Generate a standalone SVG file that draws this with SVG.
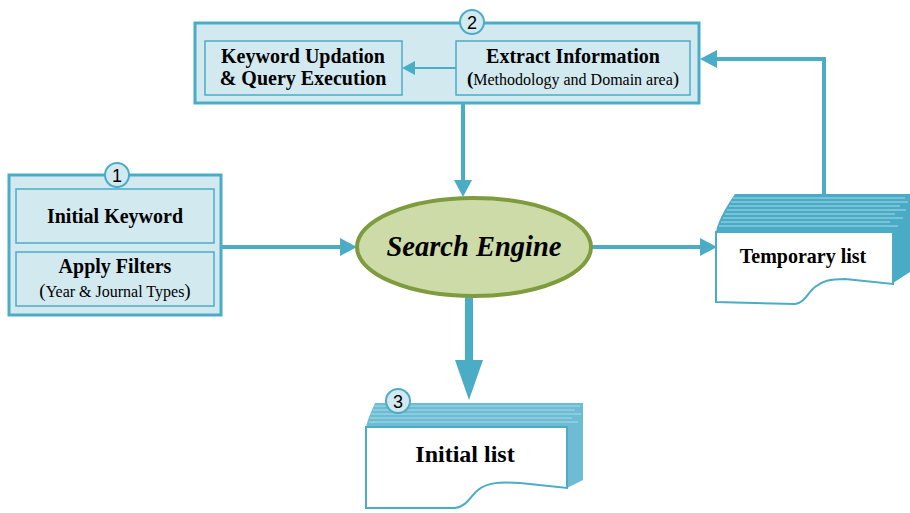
<svg xmlns="http://www.w3.org/2000/svg" width="910" height="513" viewBox="0 0 910 513">
<defs>
<style>
.outer{fill:#d2e9f0;stroke:#4bacc6;stroke-width:3}
.inner{fill:#d2e9f0;stroke:#4bacc6;stroke-width:1.5}
.num{fill:#d2e9f0;stroke:#4bacc6;stroke-width:2}
.numt{font-family:"Liberation Sans",Arial,sans-serif;font-size:18px;fill:#000;text-anchor:middle}
.b{font-family:"Liberation Serif","Times New Roman",serif;font-weight:bold;font-size:20px;fill:#000;text-anchor:middle}
.n{font-family:"Liberation Serif","Times New Roman",serif;font-size:16px;fill:#000;text-anchor:middle}
.line{fill:none;stroke:#4bacc6;stroke-width:4}
.head{fill:#4bacc6}
.doc{fill:#fff;stroke:#4bacc6;stroke-width:2}
.stk{stroke:#a9dbe8;stroke-width:1}
</style>
</defs>
<rect width="910" height="513" fill="#fff"/>

<g id="connectors">
<path class="line" d="M221,247 L342,247"/>
<polygon class="head" points="357,247 340,238 340,256"/>
<path class="line" d="M463,103 L463,182"/>
<polygon class="head" points="463,197 454,180 472,180"/>
<path class="line" d="M592,247 L702,247"/>
<polygon class="head" points="717,247 700,238 700,256"/>
<path class="line" d="M824,194 L824,59 L714,59"/>
<polygon class="head" points="700,59 717,50 717,68"/>
<rect class="head" x="465" y="297" width="8" height="64"/>
<polygon class="head" points="469,400 455,360 483,360"/>
</g>

<g id="node2">
<rect class="outer" x="195" y="23" width="504" height="80"/>
<rect class="inner" x="205" y="41" width="197" height="54"/>
<rect class="inner" x="456" y="41" width="234" height="54"/>
<path d="M456,68 L414,68" stroke="#4bacc6" stroke-width="2" fill="none"/>
<polygon class="head" points="402,68 415,61 415,75"/>
<text class="b" x="303" y="63">Keyword Updation</text>
<text class="b" x="303" y="85">&amp; Query Execution</text>
<text class="b" x="573" y="63">Extract Information</text>
<text class="n" x="573" y="85"><tspan style="font-weight:bold;font-size:19px">(</tspan>Methodology and Domain area<tspan style="font-size:19px">)</tspan></text>
<circle class="num" cx="472" cy="22" r="12"/>
<text class="numt" x="472" y="28.5">2</text>
</g>

<g id="node1">
<rect class="outer" x="9" y="175" width="212" height="140"/>
<rect class="inner" x="16" y="189" width="198" height="54"/>
<rect class="inner" x="16" y="252" width="198" height="54"/>
<text class="b" x="115" y="223">Initial Keyword</text>
<text class="b" x="115" y="273">Apply Filters</text>
<text class="n" x="115" y="297"><tspan style="font-size:19px">(</tspan>Year &amp; Journal Types<tspan style="font-size:19px">)</tspan></text>
<circle class="num" cx="117" cy="175" r="12"/>
<text class="numt" x="117" y="181.5">1</text>
</g>

<g id="search-engine">
<ellipse cx="474" cy="247" rx="117" ry="49" fill="#cddba8" stroke="#7e9c3e" stroke-width="4"/>
<text x="474" y="256" style="font-family:'Liberation Serif','Times New Roman',serif;font-weight:bold;font-style:italic;font-size:28.5px" text-anchor="middle" fill="#000">Search Engine</text>
</g>

<g id="temporary-list">
<path d="M716,232 C718,220 728,204 735,194 L910,194 L910,272 L893,283 L893,232 Z" fill="#4aabc7"/>
<g class="stk">
<line x1="733" y1="198" x2="905" y2="198"/>
<line x1="731" y1="202" x2="908" y2="202"/>
<line x1="729" y1="206" x2="900" y2="206"/>
<line x1="727" y1="210" x2="906" y2="210"/>
<line x1="725" y1="214" x2="895" y2="214"/>
<line x1="723" y1="218" x2="903" y2="218"/>
<line x1="721" y1="222" x2="890" y2="222"/>
<line x1="719" y1="226" x2="898" y2="226"/>
</g>
<path class="doc" d="M716,232 L893,232 L893,284 L845,279 C830,279 822,281 815,287 C808,292 805,303 795,304 L716,302 Z"/>
<text class="b" x="803" y="263">Temporary list</text>
</g>

<g id="initial-list">
<path d="M366,427 C368,418 372,410 375,403 L583,403 L583,480 L567,488 L567,427 Z" fill="#6dbcd3"/>
<g class="stk">
<line x1="374" y1="406" x2="580" y2="406"/>
<line x1="373" y1="410" x2="575" y2="410"/>
<line x1="371" y1="414" x2="581" y2="414"/>
<line x1="370" y1="418" x2="572" y2="418"/>
<line x1="369" y1="422" x2="578" y2="422"/>
</g>
<path class="doc" d="M366,427 L567,427 L567,488 L520,483 C500,482 488,482 478,490 C470,496 468,506 455,508 L366,508 Z"/>
<text class="b" x="465" y="462" style="font-size:24px">Initial list</text>
<circle class="num" cx="398" cy="401" r="12"/>
<text class="numt" x="398" y="407.5">3</text>
</g>
</svg>
